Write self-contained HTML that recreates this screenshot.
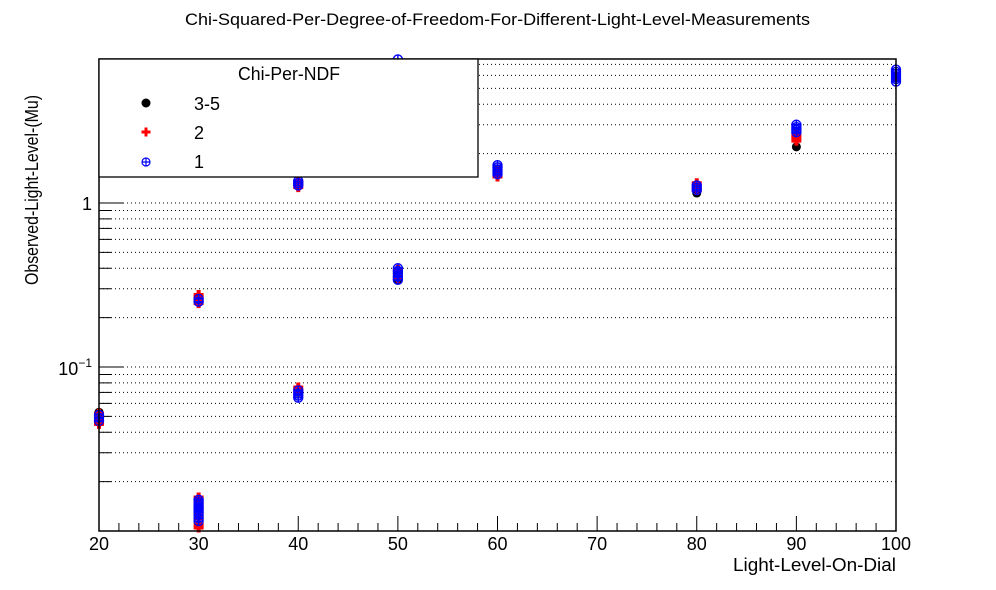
<!DOCTYPE html>
<html><head><meta charset="utf-8"><style>
body{margin:0;background:#fff;}
svg{display:block;font-family:"Liberation Sans",sans-serif;}
</style></head><body>
<svg id="chart" width="996" height="590">
<text x="185" y="25" font-size="17" textLength="625" lengthAdjust="spacingAndGlyphs">Chi-Squared-Per-Degree-of-Freedom-For-Different-Light-Level-Measurements</text>
<g id="grid"></g>
<g id="axes"></g>
<g id="marks"></g>
<rect x="99" y="59" width="797" height="472" fill="none" stroke="#000" stroke-width="1.5"/>
<text x="733" y="571" font-size="18" textLength="163" lengthAdjust="spacingAndGlyphs">Light-Level-On-Dial</text>
<text transform="translate(38,285) rotate(-90)" font-size="18" textLength="190" lengthAdjust="spacingAndGlyphs">Observed-Light-Level-(Mu)</text>
<g>
<rect x="99" y="59" width="379" height="118" fill="#fff" stroke="#000" stroke-width="1.3"/>
<text x="238" y="80" font-size="18" textLength="102" lengthAdjust="spacingAndGlyphs">Chi-Per-NDF</text>
<circle cx="146" cy="103" r="4.5" fill="#000"/>
<text x="194" y="110" font-size="18">3-5</text>
<path d="M144.5 127.5h3v3h3v3h-3v3h-3v-3h-3v-3h3z" fill="red"/>
<text x="194" y="139" font-size="18">2</text>
<g><circle cx="146" cy="162" r="4" fill="none" stroke="blue" stroke-width="1.2"/><path d="M142 162h8M146 158v8" stroke="blue" stroke-width="1.2"/></g>
<text x="194" y="168" font-size="18">1</text>
</g>
</svg>
<script>
const xCats=[20,30,40,50,60,80,90,100];
const xTicks=[20,30,40,50,60,70,80,90,100];
const yMajorLabels=["1","10^-1"];
const black=[[20,0.046],[20,0.048],[20,0.05],[20,0.053],[30,0.25],[30,0.26],[30,0.013],[30,0.015],[40,1.3],[40,0.07],[50,0.34],[50,0.36],[50,0.38],[60,1.5],[60,1.6],[80,1.15],[80,1.2],[80,1.25],[90,2.2],[100,5.8]];
const red=[[20,0.045],[20,0.047],[20,0.049],[20,0.052],[30,0.245],[30,0.255],[30,0.265],[30,0.275],[30,0.0105],[30,0.011],[30,0.012],[30,0.013],[30,0.014],[30,0.015],[30,0.016],[40,1.25],[40,1.3],[40,1.35],[40,0.072],[40,0.075],[50,0.35],[50,0.39],[60,1.45],[60,1.52],[60,1.6],[80,1.2],[80,1.26],[80,1.32],[90,2.4],[90,2.5],[90,2.6],[100,5.9]];
const blue=[[20,0.047],[20,0.049],[20,0.051],[30,0.25],[30,0.26],[30,0.0115],[30,0.012],[30,0.0125],[30,0.013],[30,0.0135],[30,0.014],[30,0.0145],[30,0.015],[30,0.0155],[40,1.28],[40,1.32],[40,1.36],[40,0.065],[40,0.067],[40,0.069],[40,0.072],[50,0.34],[50,0.355],[50,0.37],[50,0.385],[50,0.4],[50,7.5],[60,1.5],[60,1.55],[60,1.6],[60,1.65],[60,1.7],[80,1.2],[80,1.24],[80,1.28],[90,2.7],[90,2.8],[90,2.9],[90,3.0],[100,5.5],[100,5.7],[100,5.9],[100,6.1],[100,6.3],[100,6.5]];
const NS="http://www.w3.org/2000/svg";
const X0=99,X1=896,Y0=531,Y1=59,xmin=20,xmax=100,lmin=-2,lmax=0.878;
const sx=v=>X0+(v-xmin)/(xmax-xmin)*(X1-X0);
const sy=v=>Y0-(Math.log10(v)-lmin)/(lmax-lmin)*(Y0-Y1);
function mk(t,a,p){const e=document.createElementNS(NS,t);for(const k in a)e.setAttribute(k,a[k]);p.appendChild(e);return e;}
const grid=document.getElementById('grid'),axes=document.getElementById('axes'),marks=document.getElementById('marks');
for(let d=-2;d<=0;d++){for(let m=1;m<=9;m++){const v=m*Math.pow(10,d);const y=sy(v);if(y<Y1||y>Y0)continue;
 if(!(d===-2&&m===1)){const g=mk('line',{x1:X0,x2:X1,y1:y,y2:y,stroke:'#000','stroke-width':1,'stroke-dasharray':'1,3'},grid);
 
 }
 const t=mk('line',{x1:X0,x2:X0+(m===1?24:12),y1:y,y2:y,stroke:'#000','stroke-width':1},axes);
 
 }}
const l1=mk('text',{x:92,y:sy(1)+7,'text-anchor':'end','font-size':18},axes);l1.textContent=yMajorLabels[0];


const l2=mk('text',{x:92,y:sy(0.1)+8,'text-anchor':'end','font-size':18},axes);


l2.innerHTML='10<tspan dy="-8" font-size="12">−1</tspan>';
for(let v=xmin;v<=xmax;v+=2){const x=sx(v);const maj=(v%10===0);
 const t=mk('line',{x1:x,x2:x,y1:Y0,y2:Y0-(maj?15:8),stroke:'#000','stroke-width':1},axes);
 
 }
xTicks.forEach(v=>{const t=mk('text',{x:sx(v),y:550,'text-anchor':'middle','font-size':18},axes);t.textContent=v;
 
 });
black.forEach(p=>{const c=mk('circle',{cx:sx(p[0]),cy:sy(p[1]),r:4.5,fill:'#000'},marks);
 
 });
red.forEach(p=>{const x=sx(p[0]),y=sy(p[1]);const c=mk('path',{d:`M${x-2} ${y-5}h4v3h3v4h-3v3h-4v-3h-3v-4h3z`,fill:'red'},marks);
 
 });
blue.forEach(p=>{const x=sx(p[0]),y=sy(p[1]);const g=mk('g',{},marks);
 
 
 mk('circle',{cx:x,cy:y,r:4.5,fill:'none',stroke:'blue','stroke-width':1.4},g);
 mk('path',{d:`M${x-4.5} ${y}h9M${x} ${y-4.5}v9`,stroke:'blue','stroke-width':1.4},g);});
</script>
</body></html>
